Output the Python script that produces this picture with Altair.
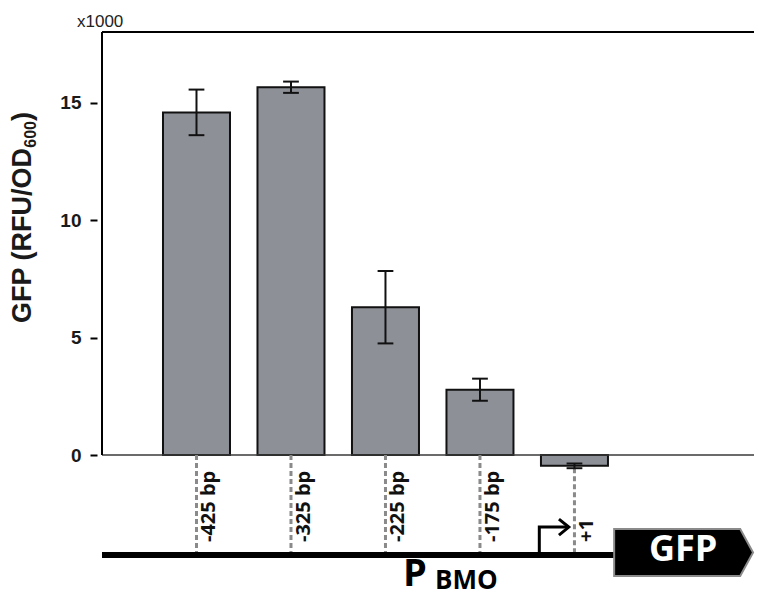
import altair as alt
import pandas as pd

# ---- data ----
categories = ["-425 bp", "-325 bp", "-225 bp", "-175 bp", "+1"]
gfp = [14.58, 15.65, 6.29, 2.78, -0.46]      # x1000 RFU/OD600
err = [0.97, 0.24, 1.54, 0.47, 0.10]
y_ticks = [0, 5, 10, 15]

df = pd.DataFrame({"label": categories, "gfp": gfp, "err": err})
df["pos"] = list(range(1, len(categories) + 1))

# ---- layout ----
W, H = 662, 565
XMAX = 6.9
YMIN, YMAX = -6.04, 18
xs = alt.Scale(domain=[0, XMAX], nice=False, zero=False)
ys = alt.Scale(domain=[YMIN, YMAX], nice=False, zero=False)
PXX = W / XMAX
PXY = H / (YMAX - YMIN)

DNA_Y = -4.255
BOX_X0, BOX_X1, BOX_TIP = 5.42, 6.754, 6.89
BOX_TOP, BOX_BOT = -3.149, -5.149
PROM_X = 4.628
PROM_Y = -3.064
ARROW_END = 4.94

YAXIS = alt.Axis(values=y_ticks, domain=False, grid=False, ticks=True,
                 tickSize=7, tickWidth=2, tickColor="black",
                 labelFont="Liberation Sans", labelFontWeight="bold",
                 labelFontSize=19, labelColor="#1a1a1a", labelPadding=9,
                 title=None)

one = pd.DataFrame({"a": [0]})
base = alt.Chart(df)


def X(f, **kw):
    return alt.X(f, type="quantitative", scale=xs, axis=None, **kw)


def Y(f, **kw):
    return alt.Y(f, type="quantitative", scale=ys, axis=YAXIS, **kw)


def seg_df(x0, x1, y0, y1):
    return pd.DataFrame({"x0": [x0], "x1": [x1], "y0": [y0], "y1": [y1]})


# frame lines
zero_line = alt.Chart(seg_df(0, XMAX, 0, 0)).mark_rule(color="#3a3a3a", strokeWidth=1.5).encode(
    x=X("x0"), x2="x1:Q", y=Y("y0"))
left_line = alt.Chart(seg_df(0, 0, 0, YMAX)).mark_rule(color="black", strokeWidth=2).encode(
    x=X("x0"), y=Y("y0"), y2="y1:Q")
top_line = alt.Chart(seg_df(0, XMAX, YMAX, YMAX)).mark_rule(color="black", strokeWidth=2).encode(
    x=X("x0"), x2="x1:Q", y=Y("y0"))

# dashed position markers
dashes = base.transform_calculate(
    top="min(datum.gfp - datum.err, 0)", bot=str(DNA_Y)
).mark_rule(color="#8a8a8a", strokeWidth=3, strokeDash=[5, 3]).encode(
    x=X("pos"), y=Y("top"), y2="bot:Q")

bars = base.transform_calculate(zero="0").mark_bar(
    size=67, fill="#8e9097", stroke="#111111", strokeWidth=2).encode(
    x=X("pos"), y=Y("gfp"), y2="zero:Q")

eb = base.transform_calculate(
    lo="datum.gfp - datum.err", hi="datum.gfp + datum.err",
    c0=f"datum.pos - {8 / PXX}", c1=f"datum.pos + {8 / PXX}")
err_line = eb.mark_rule(color="#111111", strokeWidth=2).encode(x=X("pos"), y=Y("lo"), y2="hi:Q")
cap_hi = eb.mark_rule(color="#111111", strokeWidth=2).encode(x=X("c0"), x2="c1:Q", y=Y("hi"))
cap_lo = eb.mark_rule(color="#111111", strokeWidth=2).encode(x=X("c0"), x2="c1:Q", y=Y("lo"))

labels = base.transform_calculate(ly="-3.70").mark_text(
    angle=270, align="left", baseline="middle", dy=13, font="Open Sans",
    fontWeight="bold", fontSize=20, color="#111111").encode(
    x=X("pos"), y=Y("ly"), text="label:N")

# promoter / DNA diagram
dna = alt.Chart(seg_df(0, BOX_X0, DNA_Y, DNA_Y)).mark_rule(color="black", strokeWidth=6).encode(
    x=X("x0"), x2="x1:Q", y=Y("y0"))

arrow_df = pd.DataFrame({
    "x": [PROM_X, PROM_X, ARROW_END, ARROW_END - 10 / PXX, ARROW_END, ARROW_END - 10 / PXX],
    "y": [DNA_Y, PROM_Y, PROM_Y, PROM_Y + 8 / PXY, PROM_Y, PROM_Y - 8 / PXY],
    "seg": ["a", "a", "a", "b", "b", "b"],
    "o": [0, 1, 2, 0, 1, 2],
})
arrow = alt.Chart(arrow_df).mark_line(color="black", strokeWidth=3, strokeCap="butt",
                                      strokeJoin="miter").encode(
    x=X("x"), y=Y("y"), detail="seg:N", order="o:Q")

box_df = pd.DataFrame({
    "x": [BOX_X0, BOX_X1, BOX_TIP],
    "y": [BOX_TOP, BOX_TOP, (BOX_TOP + BOX_BOT) / 2],
    "y2": [BOX_BOT, BOX_BOT, (BOX_TOP + BOX_BOT) / 2],
})
box = alt.Chart(box_df).mark_area(fill="black", stroke="#8a8a8a", strokeWidth=2,
                                  opacity=1).encode(x=X("x"), y=Y("y"), y2="y2:Q")

gfp_txt = alt.Chart(pd.DataFrame({"x": [6.15], "y": [-4.03]})).mark_text(
    text="GFP", font="Open Sans", fontWeight="bold", fontSize=36, color="white",
    align="center", baseline="middle").encode(x=X("x"), y=Y("y"))

p_txt = alt.Chart(one).mark_text(text="P", font="Open Sans", fontWeight="bold", fontSize=38,
                                 color="black", align="left", baseline="alphabetic").encode(
    x=alt.value(306), y=alt.value(554))
bmo_txt = alt.Chart(one).mark_text(text="BMO", font="Open Sans", fontWeight="bold", fontSize=26,
                                   color="black", align="left", baseline="alphabetic").encode(
    x=alt.value(338), y=alt.value(557))

x1000 = alt.Chart(one).mark_text(text="x1000", font="Liberation Sans", fontSize=17,
                                 color="#222222", align="left", baseline="middle").encode(
    x=alt.value(-20), y=alt.value(-10))

# y-axis title with subscript
t_main = alt.Chart(one).mark_text(text="GFP (RFU/OD", font="Liberation Sans", fontWeight="bold",
                                  fontSize=27, color="#1a1a1a", angle=270, align="right",
                                  baseline="middle").encode(x=alt.value(-74), y=alt.value(116))
t_sub = alt.Chart(one).mark_text(text="600", font="Liberation Sans", fontWeight="bold",
                                 fontSize=16, color="#1a1a1a", angle=270, align="right",
                                 baseline="middle").encode(x=alt.value(-66), y=alt.value(89))
t_par = alt.Chart(one).mark_text(text=")", font="Liberation Sans", fontWeight="bold",
                                 fontSize=27, color="#1a1a1a", angle=270, align="right",
                                 baseline="middle").encode(x=alt.value(-74), y=alt.value(80))

chart = alt.layer(
    bars, zero_line, dashes, dna, arrow, box, gfp_txt, err_line, cap_hi, cap_lo,
    left_line, top_line, labels, p_txt, bmo_txt, x1000, t_main, t_sub, t_par,
).properties(
    width=W, height=H,
    padding={"left": 97, "top": 32, "right": 0, "bottom": 0},
    autosize=alt.AutoSizeParams(type="none"),
    background="white",
).configure_view(stroke=None)

chart.save("out.html", embed_options={"renderer": "svg", "actions": False})
